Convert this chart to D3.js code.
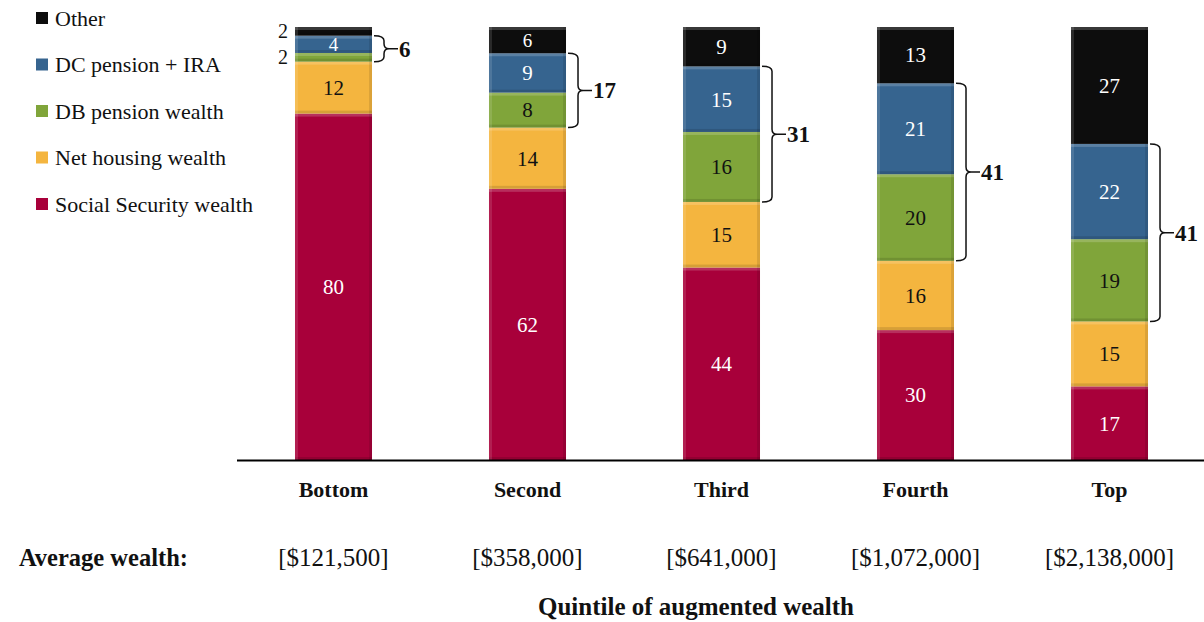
<!DOCTYPE html>
<html><head><meta charset="utf-8">
<script src="https://cdn.jsdelivr.net/npm/d3@7"></script>
<style>
html,body{margin:0;padding:0;background:#fff;overflow:hidden;}
svg{display:block;}
</style></head>
<body>
<svg id="chart" width="1204" height="622"></svg>
<script>
const categories = ["Bottom","Second","Third","Fourth","Top"];
const avgWealth = ["[$121,500]","[$358,000]","[$641,000]","[$1,072,000]","[$2,138,000]"];
const seriesNames = ["Social Security wealth","Net housing wealth","DB pension wealth","DC pension + IRA","Other"];
const socialSecurity = [80,62,44,30,17];
const netHousing = [12,14,15,16,15];
const dbPension = [2,8,16,20,19];
const dcPension = [4,9,15,21,22];
const other = [2,6,9,13,27];
const pensionTotals = [6,17,31,41,41];
const colors = ["#A8003A","#F4B53F","#80A53A","#36648F","#0d0d0d"];
const labelColors = ["#fff","#111","#111","#fff","#fff"];
const FONT = "'Liberation Serif'";

const svg = d3.select("#chart");
const x = d3.scaleBand().domain(categories).range([236.5,1206.5]).paddingInner(0.603).paddingOuter(0.3015);
const y = d3.scaleLinear().domain([0,1]).range([460,27]);

const seriesVals = [socialSecurity, netHousing, dbPension, dcPension, other];
const rows = categories.map((c,i)=>{const r={cat:c}; seriesNames.forEach((s,k)=>r[s]=seriesVals[k][i]); return r;});
const stack = d3.stack().keys(seriesNames).offset(d3.stackOffsetExpand)(rows);

function txt(sel){ return sel.style("font-family",FONT); }

// bars
stack.forEach((layer,k)=>{
  const gg = svg.append("g");
  layer.forEach((d,i)=>{
    const x0 = x(categories[i]), w = x.bandwidth();
    const yt = y(d[1]), yb = y(d[0]);
    const h = yb-yt;
    gg.append("rect").attr("x",x0).attr("y",yt).attr("width",w).attr("height",h).attr("fill",colors[k]);
    gg.append("rect").attr("x",x0).attr("y",yt).attr("width",w).attr("height",Math.min(3,h)).attr("fill","#fff").attr("opacity",0.18);
    gg.append("rect").attr("x",x0).attr("y",yb-Math.min(3,h)).attr("width",w).attr("height",Math.min(3,h)).attr("fill","#000").attr("opacity",0.12);
    gg.append("rect").attr("x",x0).attr("y",yt).attr("width",3).attr("height",h).attr("fill","#fff").attr("opacity",0.12);
    gg.append("rect").attr("x",x0+w-3).attr("y",yt).attr("width",3).attr("height",h).attr("fill","#000").attr("opacity",0.10);
    const v = rows[i][seriesNames[k]];
    const cx = x0 + w/2, cy = (yt+yb)/2;
    if (v >= 4) {
      txt(gg.append("text")).attr("x",cx).attr("y",cy).attr("dy","0.35em").attr("text-anchor","middle")
        .attr("font-size", v<=6 ? 19 : 21).attr("fill",labelColors[k]).text(v);
    } else {
      txt(gg.append("text")).attr("x",x0-7).attr("y",cy).attr("dy","0.35em").attr("text-anchor","end")
        .attr("font-size",20).attr("fill","#111").text(v);
    }
  });
});

// braces
categories.forEach((c,i)=>{
  const top = y(stack[3][i][1]);
  const bot = y(stack[2][i][0]);
  const x0 = x(c)+x.bandwidth()+2, x1 = x0+10, x2 = x1+14, r = 5, ym=(top+bot)/2;
  const p = `M${x0},${top} Q${x1},${top} ${x1},${top+r} L${x1},${ym-r} Q${x1},${ym} ${x1+r},${ym} L${x2},${ym} M${x1+r},${ym} Q${x1},${ym} ${x1},${ym+r} L${x1},${bot-r} Q${x1},${bot} ${x0},${bot}`;
  svg.append("path").attr("d",p).attr("fill","none").attr("stroke","#111").attr("stroke-width",1.5);
  txt(svg.append("text")).attr("x",x2+1).attr("y",ym).attr("dy","0.35em").attr("font-size",23).attr("font-weight","bold")
    .attr("fill","#111").text(pensionTotals[i]);
});

// axis
svg.append("line").attr("x1",237).attr("x2",1204).attr("y1",y(0)+0.5).attr("y2",y(0)+0.5).attr("stroke","#000").attr("stroke-width",2);
const xAxis = d3.axisBottom(x).tickSize(0).tickPadding(21);
const ax = svg.append("g").attr("transform",`translate(0,${y(0)})`).call(xAxis);
ax.select(".domain").remove();
ax.attr("font-family",null);
txt(ax.selectAll("text")).attr("font-size",22).attr("font-weight","bold").attr("fill","#111");

// average wealth row
txt(svg.append("text")).attr("x",19).attr("y",557).attr("dy","0.35em").attr("font-size",24.5).attr("font-weight","bold").attr("fill","#111").text("Average wealth:");
categories.forEach((c,i)=>{
  txt(svg.append("text")).attr("x",x(c)+x.bandwidth()/2).attr("y",557).attr("dy","0.35em").attr("text-anchor","middle")
    .attr("font-size",25).attr("fill","#111").text(avgWealth[i]);
});
txt(svg.append("text")).attr("x",696).attr("y",606).attr("dy","0.35em").attr("text-anchor","middle").attr("font-size",25).attr("font-weight","bold").attr("fill","#111").text("Quintile of augmented wealth");

// legend
const legOrder = [4,3,2,1,0];
legOrder.forEach((k,j)=>{
  const ly = 18 + j*46.5;
  svg.append("rect").attr("x",36).attr("y",ly-6).attr("width",12).attr("height",12).attr("fill",colors[k]);
  txt(svg.append("text")).attr("x",55).attr("y",ly).attr("dy","0.35em").attr("font-size",22).attr("fill","#111").text(seriesNames[k]);
});
</script>
</body></html>
